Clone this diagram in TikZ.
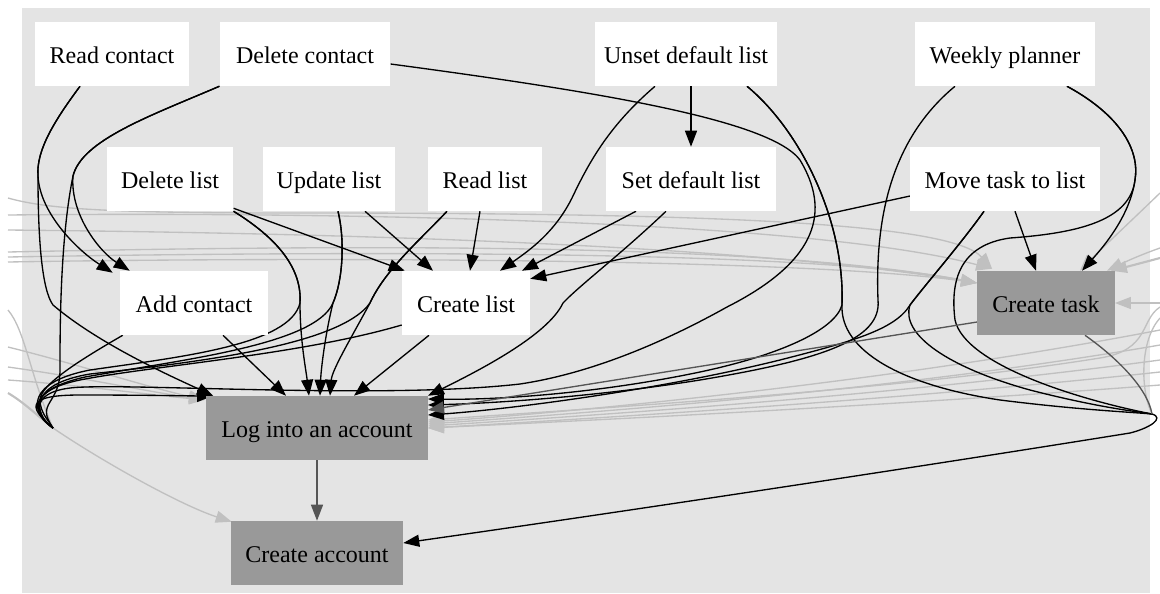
\documentclass[tikz,border=0pt]{standalone}
\usepackage{fontspec}
\setmainfont{Liberation Serif}
\usetikzlibrary{arrows.meta,calc}

\definecolor{panel}{HTML}{E4E4E4}
\definecolor{donefill}{HTML}{999999}
\definecolor{faint}{HTML}{C0C0C0}
\definecolor{darkedge}{HTML}{555555}

\pgfdeclarelayer{back}
\pgfdeclarelayer{edges}
\pgfsetlayers{back,edges,main}

\tikzset{
  feat/.style={rectangle, fill=white, minimum height=48pt, inner sep=0pt, text height=17pt, text depth=3pt, font=\fontsize{18}{20}\selectfont},
  donebox/.style={feat, fill=donefill},
  dep/.style={line width=1pt, -{Triangle[length=12pt,width=9pt]}},
  deploose/.style={line width=1pt},
  outer/.style={faint, line width=1pt, -{Triangle[length=12pt,width=9pt]}},
  outerloose/.style={faint, line width=1pt},
  chain/.style={darkedge, line width=1pt, -{Triangle[length=12pt,width=9pt]}},
}

\begin{document}
\begin{tikzpicture}[x=0.75pt,y=0.75pt,yscale=-1,xscale=1]
\useasboundingbox (0,0) rectangle (1160,593);

% Text Nodes
\node[feat, minimum width=116pt] (readC) at (112,54) {Read contact};
\node[feat, minimum width=128pt] (delC) at (305,54) {Delete contact};
\node[feat, minimum width=137pt] (unsetDL) at (686,54) {Unset default list};
\node[feat, minimum width=135pt] (weekly) at (1005,54) {Weekly planner};
\node[feat, minimum width=95pt] (delL) at (170,179) {Delete list};
\node[feat, minimum width=99pt] (updL) at (329,179) {Update list};
\node[feat, minimum width=86pt] (readL) at (485,179) {Read list};
\node[feat, minimum width=127pt] (setDL) at (691,179) {Set default list};
\node[feat, minimum width=142pt] (moveT) at (1005,179) {Move task to list};
\node[feat, minimum width=111pt] (addC) at (194,303) {Add contact};
\node[feat, minimum width=96pt] (createL) at (466,303) {Create list};
\node[donebox, minimum width=103pt] (createT) at (1046,303) {Create task};
\node[donebox, minimum width=166pt] (login) at (317,428) {Log into an account};
\node[donebox, minimum width=129pt] (createA) at (317,553) {Create account};

% where the bent edges meet
\coordinate (lhook) at (53,428);
\coordinate (rhook) at (1152,414);
% loose ends at the borders
\foreach \yy [count=\i] in {198,215,230,252,257,262,310,347,367,380,393}
  \coordinate (wl\i) at (8,\yy);
\foreach \yy [count=\i] in {193,248,258,303,307,330,345,360,372,385,318}
  \coordinate (er\i) at (1160,\yy);

\begin{pgfonlayer}{back}
\fill[panel] (22,8) rectangle (1150,593);
\end{pgfonlayer}

\begin{pgfonlayer}{edges}
% Gray edges, left side
\draw[outer] (wl1) .. controls (50,210) and (120,213) .. (300,213) .. controls (700,213) and (950,222) .. ($(createT.north west)+(15,-2)$);
\draw[outer] (wl2) .. controls (300,212) and (800,218) .. ($(createT.north west)+(15,-2)$);
\draw[outer] (wl3) .. controls (200,232) and (700,238) .. ($(createT.west)+(0,-20)$);
\draw[outer] (wl4) .. controls (300,246) and (750,240) .. ($(createT.west)+(0,-20)$);
\draw[outer] (wl5) .. controls (300,252) and (800,248) .. ($(createT.west)+(0,-20)$);
\draw[outer] (wl6) .. controls (300,257) and (800,258) .. ($(createT.west)+(0,-20)$);
\draw[outerloose] (wl7) .. controls (25,330) and (30,375) .. (lhook);
\draw[outer] (wl8) .. controls (80,365) and (150,388) .. ($(login.north west)+(-1,4)$);
\draw[outer] (wl9) .. controls (80,377) and (150,392) .. ($(login.north west)+(-1,4)$);
\draw[outer] (wl10) .. controls (80,385) and (150,395) .. ($(login.north west)+(-1,4)$);
\draw[outerloose, line width=1.6pt] (wl11) .. controls (25,403) and (40,418) .. (lhook);
\draw[outer] (lhook) .. controls (100,460) and (180,505) .. ($(createA.north west)+(1,1)$);

% Gray edges, right side
\draw[outer] (er1) .. controls (1130,222) and (1100,250) .. ($(createT.north)+(34,0)$);
\draw[outer] (er2) .. controls (1140,255) and (1125,262) .. ($(createT.north east)+(-8,0)$);
\draw[outer, line width=1.6pt] (er3) .. controls (1145,262) and (1130,266) .. ($(createT.north east)+(-4,0)$);
\draw[outer] (er4) -- (createT.east);
\draw[outer] (er5) .. controls (1140,320) and (1150,350) .. (1100,358) .. controls (900,390) and (600,408) .. ($(login.east)+(0,-8)$);
\draw[outer] (er6) .. controls (900,380) and (600,410) .. ($(login.east)+(0,-6)$);
\draw[outer] (er7) .. controls (900,390) and (600,412) .. ($(login.east)+(0,-4)$);
\draw[outer] (er8) .. controls (900,395) and (600,415) .. ($(login.east)+(0,-2)$);
\draw[outer] (er9) .. controls (900,400) and (600,418) .. (login.east);
\draw[outer] (er10) .. controls (900,405) and (600,420) .. (login.east);
\draw[outerloose] (er11) .. controls (1140,340) and (1140,390) .. (rhook);

% Black edges
\draw[dep] ($(readC.south)+(-32,0)$) .. controls (55,120) and (36,150) .. (38,176) .. controls (40,215) and (80,252) .. ($(addC.north west)+(-7,2)$);
\draw[dep] ($(readC.south)+(-32,0)$) .. controls (55,120) and (36,150) .. (38,176) .. controls (38,240) and (42,290) .. (53,305) .. controls (100,345) and (175,378) .. ($(login.north west)+(7,0)$);
\draw[dep] (delC.south west) .. controls (150,116) and (82,140) .. (73,176) .. controls (70,215) and (100,252) .. ($(addC.north west)+(10,0)$);
\draw[deploose] (delC.south west) .. controls (150,116) and (82,140) .. (73,176) .. controls (60,240) and (60,330) .. (60,370) .. controls (60,405) and (35,402) .. (lhook);
\draw[dep] (lhook) .. controls (25,405) and (30,395) .. (80,395) .. controls (150,395) and (190,396) .. ($(login.north west)+(7,0)$);
\draw[deploose] ($(delC.east)+(0,10)$) .. controls (600,92) and (770,120) .. (800,160) .. controls (830,210) and (820,260) .. (727,307) .. controls (650,350) and (580,375) .. (520,384) .. controls (380,400) and (120,382) .. (70,388) .. controls (30,393) and (35,415) .. (lhook);

\draw[dep] ($(unsetDL.south)+(5,0)$) -- (setDL.north);
\draw[dep] ($(unsetDL.south)+(-31,0)$) .. controls (610,125) and (590,160) .. (572,198) .. controls (555,232) and (530,250) .. ($(createL.north)+(34,0)$);
\draw[dep] ($(unsetDL.south)+(61,0)$) .. controls (800,130) and (845,220) .. (842,305) .. controls (835,330) and (780,355) .. (700,372) .. controls (600,393) and (500,400) .. ($(login.east)+(0,-29)$);
\draw[deploose] ($(unsetDL.south)+(61,0)$) .. controls (800,130) and (845,220) .. (842,305) .. controls (840,350) and (900,385) .. (1000,400) .. controls (1080,410) and (1130,412) .. (rhook);

\draw[dep] ($(weekly.south)+(-50,0)$) .. controls (890,140) and (875,220) .. (878,300) .. controls (882,340) and (820,360) .. (700,380) .. controls (600,396) and (500,403) .. ($(login.east)+(0,-23)$);
\draw[dep] ($(weekly.south)+(62,0)$) .. controls (1120,115) and (1140,150) .. (1135,180) .. controls (1130,215) and (1105,245) .. ($(createT.north)+(36,0)$);
\draw[deploose] ($(weekly.south)+(62,0)$) .. controls (1120,115) and (1140,150) .. (1135,180) .. controls (1130,220) and (1080,233) .. (1010,238) .. controls (960,245) and (950,280) .. (955,320) .. controls (965,365) and (1080,400) .. (rhook);

\draw[dep] ($(moveT.south)+(-21,0)$) .. controls (960,245) and (925,285) .. (910,305) .. controls (895,330) and (850,342) .. (780,360) .. controls (650,392) and (500,410) .. ($(login.east)+(0,-13)$);
\draw[deploose] ($(moveT.south)+(-21,0)$) .. controls (960,245) and (925,285) .. (910,305) .. controls (900,335) and (950,368) .. (1030,390) .. controls (1100,408) and (1140,412) .. (rhook);
\draw[dep] ($(moveT.south)+(10,0)$) -- ($(createT.north)+(-10,0)$);
\draw[dep] ($(moveT.west)+(0,17)$) -- ($(createL.north east)+(0,8)$);

\draw[dep] ($(setDL.south)+(-55,0)$) -- ($(createL.north)+(56,0)$);
\draw[dep] ($(setDL.south)+(-25,0)$) .. controls (620,255) and (580,285) .. (563,303) .. controls (548,335) and (480,370) .. (login.north east);

\draw[dep] ($(readL.south)+(-5,0)$) -- ($(createL.north)+(4,0)$);
\draw[dep] ($(readL.south)+(-38,0)$) .. controls (420,240) and (385,270) .. (370,303) .. controls (350,340) and (332,370) .. ($(login.north)+(13,0)$);
\draw[deploose] ($(readL.south)+(-38,0)$) .. controls (420,240) and (385,270) .. (370,303) .. controls (340,345) and (200,362) .. (90,374) .. controls (30,384) and (32,412) .. (lhook);

\draw[dep] ($(updL.south)+(36,0)$) -- ($(createL.north)+(-33,0)$);
\draw[dep] ($(updL.south)+(9,0)$) .. controls (345,240) and (343,280) .. (333,303) .. controls (325,335) and (321,370) .. ($(login.north)+(3,0)$);
\draw[deploose] ($(updL.south)+(9,0)$) .. controls (345,240) and (343,280) .. (333,303) .. controls (315,345) and (180,360) .. (85,377) .. controls (28,390) and (30,412) .. (lhook);

\draw[dep] ($(delL.south east)+(0,-3)$) -- ($(createL.north west)+(3,0)$);
\draw[dep] (delL.south east) .. controls (280,240) and (302,270) .. (300,303) .. controls (300,340) and (306,370) .. ($(login.north)+(-8,0)$);
\draw[deploose] (delL.south east) .. controls (280,240) and (302,270) .. (300,303) .. controls (290,345) and (180,357) .. (90,370) .. controls (28,382) and (28,410) .. (lhook);

\draw[dep] ($(addC.south)+(29,0)$) -- ($(login.north)+(-31,0)$);
\draw[deploose] ($(addC.south west)+(3,0)$) .. controls (80,360) and (40,385) .. (40,400) .. controls (40,412) and (48,420) .. (lhook);

\draw[dep] ($(createL.south)+(-37,0)$) -- ($(login.north)+(37,0)$);
\draw[deploose] ($(createL.west)+(0,22)$) .. controls (300,355) and (150,366) .. (80,380) .. controls (30,390) and (30,412) .. (lhook);

\draw[dep] (rhook) .. controls (1165,418) and (1150,428) .. (1130,433) .. controls (900,470) and (600,515) .. ($(createA.east)+(0,-10)$);

% Dark gray edges
\draw[chain] (login) -- (createA);
\draw[chain] ($(createT.west)+(0,19)$) -- ($(login.east)+(0,-18)$);
\draw[darkedge, line width=1pt] ($(createT.south)+(39,0)$) .. controls (1120,360) and (1148,390) .. (rhook);
\end{pgfonlayer}

\end{tikzpicture}
\end{document}
